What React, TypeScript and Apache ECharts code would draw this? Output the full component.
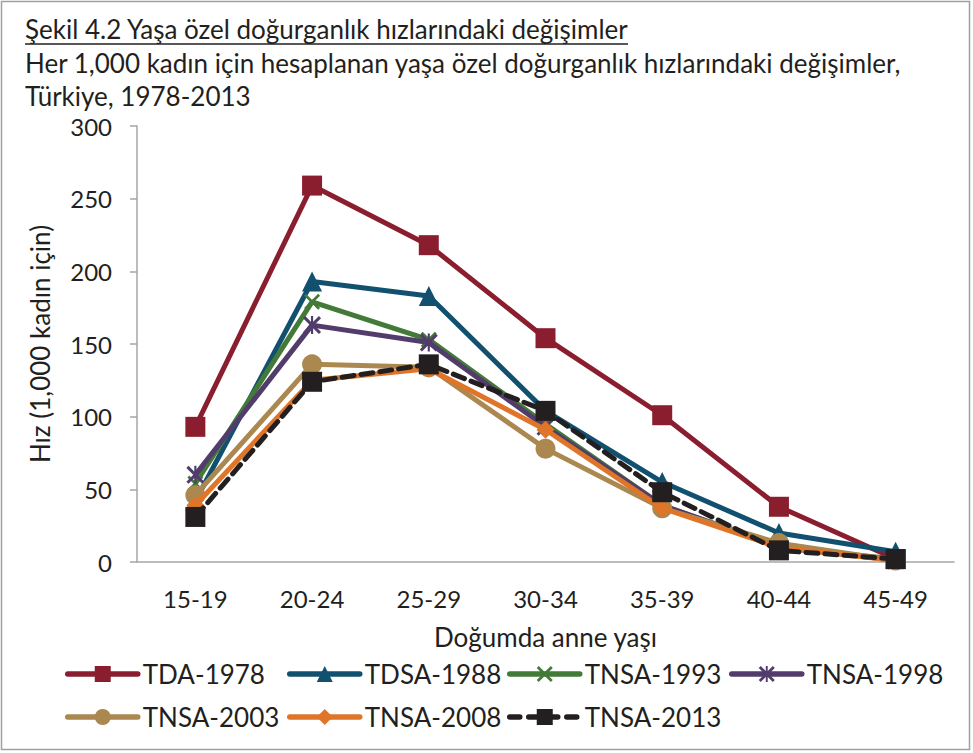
import React, { useEffect, useRef } from "react";
import * as echarts from "echarts";

const categories = ["15-19", "20-24", "25-29", "30-34", "35-39", "40-44", "45-49"];
const seriesNames = ["TDA-1978", "TDSA-1988", "TNSA-1993", "TNSA-1998", "TNSA-2003", "TNSA-2008", "TNSA-2013"];
const tda1978 = [93, 259, 218, 154, 101, 38, 2];
const tdsa1988 = [42, 193, 183, 104, 55, 20, 7];
const tnsa1993 = [54, 179, 153, 95, 39, 10, 2];
const tnsa1998 = [60, 163, 151, 93, 39, 11, 1];
const tnsa2003 = [46, 136, 134, 78, 37, 13, 1];
const tnsa2008 = [39, 125, 133, 91, 37, 10, 1];
const tnsa2013 = [31, 124, 136, 104, 48, 8, 2];
const yTicks = [0, 50, 100, 150, 200, 250, 300];

const titleText = "Şekil 4.2 Yaşa özel doğurganlık hızlarındaki değişimler";
const subtitle1 = "Her 1,000 kadın için hesaplanan yaşa özel doğurganlık hızlarındaki değişimler,";
const subtitle2 = "Türkiye, 1978-2013";
const yName = "Hız (1,000 kadın için)";
const xName = "Doğumda anne yaşı";

const FONT = "Lato, 'Open Sans', sans-serif";
const TXT = "#231f20";

const xPath = "path://M0,1.2 L1.2,0 L10,8.8 L8.8,10 Z M8.8,0 L10,1.2 L1.2,10 L0,8.8 Z";
const starPath =
  "path://M0,1.2 L1.2,0 L10,8.8 L8.8,10 Z M8.8,0 L10,1.2 L1.2,10 L0,8.8 Z M4.4,0 L5.6,0 L5.6,10 L4.4,10 Z";

export default function App() {
  const ref = useRef<HTMLDivElement>(null);
  useEffect(() => {
    if (!ref.current) return;
    const chart = echarts.init(ref.current, undefined, { renderer: "svg" });
    const dataSets = [tda1978, tdsa1988, tnsa1993, tnsa1998, tnsa2003, tnsa2008, tnsa2013];
    const colors = ["#8a1e2e", "#12506f", "#437a37", "#523c6c", "#ab884f", "#df7528", "#231f20"];
    const symbols = ["rect", "triangle", xPath, starPath, "circle", "diamond", "rect"];
    const sizes = [20, 20, 16, 18, 20, 18, 20];
    const legendPos = [
      [65, 661], [287, 661], [507, 661], [729, 661],
      [65, 704], [287, 704], [507, 704],
    ];
    const series = dataSets.map((d, i) => ({
      name: seriesNames[i],
      type: "line",
      data: d,
      symbol: symbols[i],
      symbolSize: sizes[i],
      showSymbol: true,
      lineStyle: {
        color: colors[i],
        width: 5,
        type: i === 6 ? [12, 7] : "solid",
        cap: i === 6 ? "round" : "butt",
      },
      itemStyle: { color: colors[i], borderWidth: 0 },
      z: 2 + i,
    }));
    chart.setOption({
      animation: false,
      backgroundColor: "#ffffff",
      textStyle: { fontFamily: FONT },
      grid: { left: 137, right: 19, top: 126, bottom: 191 },
      legend: legendPos.map((p, i) => ({
        data: [seriesNames[i]],
        left: p[0],
        top: p[1],
        itemWidth: 70,
        itemHeight: 20,
        padding: 0,
        lineStyle: { width: 5.5, type: i === 6 ? [10, 9] : "solid", cap: "round" },
        textStyle: { fontSize: 26, color: TXT, fontFamily: FONT },
      })),
      xAxis: {
        type: "category",
        data: categories,
        boundaryGap: true,
        axisLine: { lineStyle: { color: "#a6a6a6", width: 1.5 } },
        axisTick: { show: false },
        axisLabel: { fontSize: 24, color: TXT, margin: 24, fontFamily: FONT },
        name: xName,
        nameLocation: "middle",
        nameGap: 62,
        nameTextStyle: { fontSize: 26, color: TXT, fontFamily: FONT },
      },
      yAxis: {
        type: "value",
        min: yTicks[0],
        max: yTicks[yTicks.length - 1],
        interval: 50,
        splitLine: { show: false },
        axisLine: { show: true, lineStyle: { color: "#a6a6a6", width: 1.5 } },
        axisTick: { show: true, length: 7, lineStyle: { color: "#a6a6a6", width: 1.5 } },
        axisLabel: { fontSize: 24, color: TXT, margin: 25, fontFamily: FONT },
        name: yName,
        nameLocation: "middle",
        nameRotate: 90,
        nameGap: 84,
        nameTextStyle: { fontSize: 26, color: TXT, fontFamily: FONT },
      },
      graphic: [
        {
          type: "rect",
          shape: { x: 1.5, y: 1.5, width: 968, height: 748 },
          style: { fill: "none", stroke: "#a0a0a0", lineWidth: 1.5 },
          silent: true,
        },
        {
          type: "text",
          left: 25,
          top: 16,
          style: { text: titleText, fontSize: 26, fill: TXT, fontFamily: FONT },
        },
        {
          type: "line",
          shape: { x1: 25, y1: 44, x2: 628, y2: 44 },
          style: { stroke: TXT, lineWidth: 1.5 },
        },
        {
          type: "text",
          left: 25,
          top: 50,
          style: { text: subtitle1, fontSize: 26, fill: TXT, fontFamily: FONT },
        },
        {
          type: "text",
          left: 25,
          top: 83,
          style: { text: subtitle2, fontSize: 26, fill: TXT, fontFamily: FONT },
        },
      ],
      series,
    });
    return () => chart.dispose();
  }, []);
  return (
    <div
      ref={ref}
      style={{ position: "fixed", left: 0, top: 0, width: 973, height: 753 }}
    />
  );
}
